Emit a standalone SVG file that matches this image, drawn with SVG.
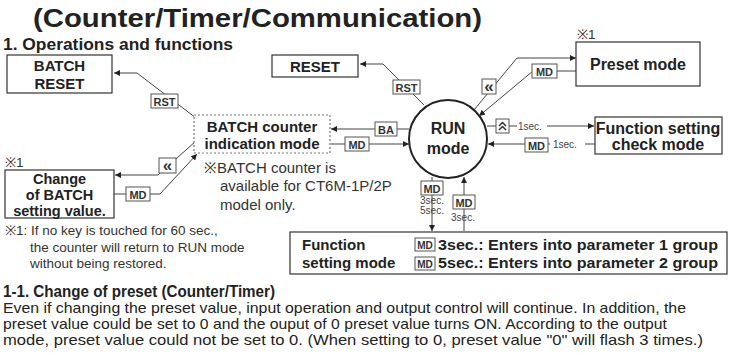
<svg xmlns="http://www.w3.org/2000/svg" width="731" height="360" viewBox="0 0 731 360">
<defs>
<marker id="ah" viewBox="0 0 10 10" refX="10" refY="5" markerWidth="8" markerHeight="6" markerUnits="userSpaceOnUse" orient="auto">
<path d="M0,0 L10,5 L0,10 z" fill="#222"/>
</marker>
<style>
text{font-family:"Liberation Sans",Arial,sans-serif;fill:#222}
.b{font-weight:bold}
.box{fill:#fff;stroke:#333;stroke-width:1.2}
.key{fill:#fff;stroke:#555;stroke-width:1}
.kt{font-weight:bold;font-size:11px;fill:#333;text-anchor:middle}
.kt10{font-weight:bold;font-size:10px;fill:#333;text-anchor:middle}
.gq{font-weight:bold;font-size:17px;fill:#333;text-anchor:middle}
.node{font-weight:bold;font-size:15px;text-anchor:middle}
.node16{font-weight:bold;font-size:16px;text-anchor:middle}
.ln{fill:none;stroke:#444;stroke-width:1}
.arr{marker-end:url(#ah)}
.sec{font-size:10px;fill:#444}
.note{font-size:15px;fill:#333}
.fn{font-size:13.5px;fill:#333}
</style>
</defs>
<rect width="731" height="360" fill="#fff"/>

<text class="b" x="33" y="27" font-size="26" textLength="449" lengthAdjust="spacingAndGlyphs">(Counter/Timer/Communication)</text>
<text class="b" x="3" y="50" font-size="16" textLength="230" lengthAdjust="spacingAndGlyphs">1. Operations and functions</text>

<g id="connectors">
<polyline class="ln arr" points="196,118 137,73 114,73"/>
<polyline class="ln arr" points="424,105 383,64 360,64"/>
<line class="ln arr" x1="409" y1="129" x2="331" y2="129"/>
<line class="ln arr" x1="331" y1="144" x2="409" y2="144"/>
<polyline class="ln arr" points="196,141 158,175 115,175"/>
<polyline class="ln arr" points="114,194 160,194 197,154"/>
<polyline class="ln arr" points="474,110 517,58 576,58"/>
<polyline class="ln arr" points="576,71 533,71 479,116"/>
<line class="ln" x1="487" y1="126" x2="517" y2="126"/>
<line class="ln arr" x1="547" y1="126" x2="594" y2="126"/>
<line class="ln" x1="595" y1="144" x2="585" y2="144"/>
<line class="ln arr" x1="550" y1="144" x2="488" y2="144"/>
<line class="ln arr" x1="432" y1="177" x2="432" y2="231"/>
<line class="ln arr" x1="464" y1="231" x2="464" y2="177"/>

<rect class="key" x="151" y="94" width="27" height="14"/><text class="kt" x="164.5" y="105.5">RST</text>
<rect class="key" x="393" y="80" width="27" height="14"/><text class="kt" x="406.5" y="91.5">RST</text>
<rect class="key" x="375" y="122" width="22" height="14"/><text class="kt" x="386" y="133.5">BA</text>
<rect class="key" x="345" y="137" width="24" height="14"/><text class="kt" x="357" y="148.5">MD</text>
<rect class="key" x="159" y="158" width="17" height="15"/><text class="gq" x="167.5" y="171">«</text>
<rect class="key" x="126" y="187" width="24" height="14"/><text class="kt" x="138" y="198.5">MD</text>
<rect class="key" x="482" y="79" width="14" height="15"/><text class="gq" x="489" y="92">«</text>
<rect class="key" x="532" y="64" width="25" height="14"/><text class="kt" x="544.5" y="75.5">MD</text>
<rect class="key" x="496" y="119" width="13" height="14"/>
<polyline points="499,126 502.5,122.5 506,126" fill="none" stroke="#333" stroke-width="1.5"/>
<polyline points="499,130 502.5,126.5 506,130" fill="none" stroke="#333" stroke-width="1.5"/>
<text class="sec" x="518" y="130">1sec.</text>
<rect class="key" x="525" y="138" width="23" height="14"/><text class="kt" x="536.5" y="149.5">MD</text>
<text class="sec" x="553" y="148">1sec.</text>
<rect class="key" x="421" y="181" width="22" height="14"/><text class="kt" x="432" y="192.5">MD</text>
<text class="sec" x="432" y="204" text-anchor="middle">3sec.</text>
<text class="sec" x="432" y="214" text-anchor="middle">5sec.</text>
<rect class="key" x="453" y="195" width="22" height="14"/><text class="kt" x="464" y="206.5">MD</text>
<text class="sec" x="463" y="221" text-anchor="middle">3sec.</text>
</g>

<g id="batch-reset">
<rect class="box" x="7" y="55" width="105" height="38"/>
<text class="node" x="59.5" y="71">BATCH</text>
<text class="node" x="59.5" y="89">RESET</text>
</g>

<g id="reset">
<rect class="box" x="272" y="55" width="86" height="22"/>
<text class="node" x="315" y="72">RESET</text>
</g>

<g id="batch-counter">
<rect x="194" y="115" width="136" height="38" fill="#fff" stroke="#777" stroke-width="1.2" stroke-dasharray="2,2"/>
<text class="node" x="262" y="132">BATCH counter</text>
<text class="node" x="262" y="149">indication mode</text>
</g>

<g id="batch-note">
<text class="note" x="204" y="173">※BATCH counter is</text>
<text class="note" x="220" y="191">available for CT6M-1P/2P</text>
<text class="note" x="220" y="210">model only.</text>
</g>

<g id="change-batch">
<text class="fn" x="5" y="167">※1</text>
<rect class="box" x="5" y="170" width="109" height="48"/>
<text class="node" x="59.5" y="184" style="font-size:14.5px">Change</text>
<text class="node" x="59.5" y="200" style="font-size:14.5px">of BATCH</text>
<text class="node" x="59.5" y="216" style="font-size:14.5px">setting value.</text>
</g>

<g id="run-mode">
<circle cx="448" cy="139" r="39" fill="#fff" stroke="#222" stroke-width="2"/>
<text class="node16" x="448" y="134">RUN</text>
<text class="node16" x="448" y="154">mode</text>
</g>

<g id="preset-mode">
<text class="fn" x="577" y="39">※1</text>
<rect class="box" x="576" y="42" width="124" height="44"/>
<text class="node16" x="638" y="70">Preset mode</text>
</g>

<g id="function-check">
<rect class="box" x="595" y="117" width="127" height="37"/>
<text class="node16" x="658" y="134">Function setting</text>
<text class="node16" x="658" y="150">check mode</text>
</g>

<g id="function-setting">
<rect class="box" x="290" y="232" width="437" height="42"/>
<text class="b" x="302" y="250" font-size="15">Function</text>
<text class="b" x="302" y="268" font-size="15">setting mode</text>
<rect class="key" x="415" y="238" width="20" height="13"/><text class="kt10" x="425" y="248.5">MD</text>
<text class="b" x="438" y="250" font-size="15" textLength="280" lengthAdjust="spacingAndGlyphs">3sec.: Enters into parameter 1 group</text>
<rect class="key" x="415" y="257" width="20" height="13"/><text class="kt10" x="425" y="267.5">MD</text>
<text class="b" x="438" y="268" font-size="15" textLength="280" lengthAdjust="spacingAndGlyphs">5sec.: Enters into parameter 2 group</text>
</g>

<g id="footnote">
<text class="fn" x="5" y="235">※1: If no key is touched for 60 sec.,</text>
<text class="fn" x="30" y="252">the counter will return to RUN mode</text>
<text class="fn" x="30" y="268">without being restored.</text>
</g>

<text class="b" x="3" y="297" font-size="16" textLength="272" lengthAdjust="spacingAndGlyphs">1-1. Change of preset (Counter/Timer)</text>
<text x="3" y="313" font-size="15" textLength="683" lengthAdjust="spacingAndGlyphs">Even if  changing the preset value, input operation and output control will continue. In addition, the</text>
<text x="3" y="329" font-size="15" textLength="664" lengthAdjust="spacingAndGlyphs">preset value could be set to 0 and the ouput of 0 preset value turns ON. According to the output</text>
<text x="3" y="345" font-size="15" textLength="700" lengthAdjust="spacingAndGlyphs">mode, preset value could not be set to 0. (When setting to 0, preset value "0" will flash 3 times.)</text>
</svg>
